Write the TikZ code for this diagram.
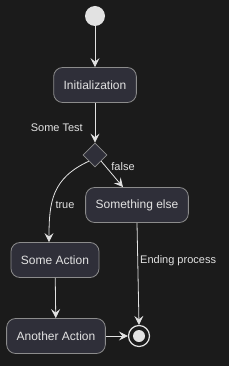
\documentclass[tikz,border=0pt]{standalone}
\usepackage{fontspec}
\setmainfont{Liberation Sans}
\usetikzlibrary{positioning,shapes.geometric,arrows.meta}
\definecolor{bgdark}{HTML}{1B1B1B}
\definecolor{boxfill}{HTML}{2F2F39}
\definecolor{boxline}{HTML}{8C8C8C}
\definecolor{ink}{HTML}{E2E2E2}
\tikzset{
  % --- activity nodes --------------------------------------------------------
  act/.style={rectangle,rounded corners=9pt,draw=boxline,fill=boxfill,
              line width=0.8pt,minimum height=35pt,inner xsep=10pt,
              text=ink,font=\fontsize{12}{14}\selectfont},
  choice/.style={diamond,draw=boxline,fill=boxfill,line width=0.8pt,
                 inner sep=0pt,minimum size=24pt},
  startdot/.style={circle,fill=ink,inner sep=0pt,minimum size=20pt},
  stopdot/.style={circle,draw=ink,fill=bgdark,line width=1.2pt,inner sep=0pt,
                  minimum size=21pt,
                  path picture={\fill[ink] (path picture bounding box.center) circle (6pt);}},
  % --- connectors ------------------------------------------------------------
  flow/.style={draw=ink,line width=0.8pt,
               -{Stealth[length=9pt,width=9pt,inset=3.5pt]}},
  lab/.style={text=ink,font=\fontsize{11}{13}\selectfont,inner sep=1pt},
}
\begin{document}
\begin{tikzpicture}[x=1pt,y=-1pt]
  \fill[bgdark] (0,0) rectangle (229,366);

  \node[startdot] (start)   at (95,16)   {};
  \node[act]      (init)    at (95,85)   {Initialization};
  \node[choice]   (test)    at (95,155)  {};
  \node[act]      (other)   at (137,205) {Something else};
  \node[act]      (some)    at (55,260)  {Some Action};
  \node[act]      (another) at (56,336)  {Another Action};
  \node[stopdot]  (stop)    at (139,336) {};

  \draw[flow] (start) -- (init);
  \draw[flow] (init) -- (test);
  \node[lab,anchor=east] (testlab) at (84,128) {Some Test};

  % both branches leave the diamond from its lower edges
  \draw[flow] (test.south west) to[out=205,in=90,looseness=1.15] ([xshift=-6pt]some.north);
  \node[lab] (truelab) at (65,205) {true};
  \draw[flow] (test.south east) -- ([xshift=-14pt]other.north);
  \node[lab] (falselab) at (123,167) {false};

  \draw[flow] (some) -- (another);
  \draw[flow] (another) -- (stop);
  \draw[flow] (other.south) -- (stop.north);
  \node[lab,anchor=west] (endlab) at (139,261) {Ending process};
\end{tikzpicture}
\end{document}
